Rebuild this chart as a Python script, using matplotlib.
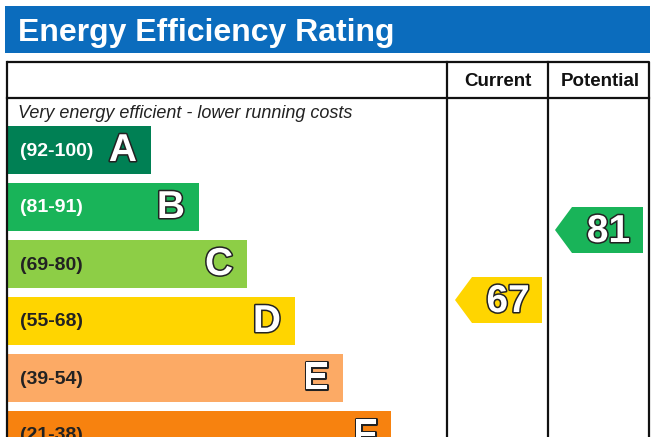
import matplotlib
matplotlib.use("Agg")
import matplotlib.pyplot as plt
from matplotlib.patches import Rectangle, Polygon
import matplotlib.patheffects as pe

plt.rcParams['font.family'] = ['Liberation Sans', 'DejaVu Sans']

# data
bands = ['A', 'B', 'C', 'D', 'E', 'F']
ranges = ['(92-100)', '(81-91)', '(69-80)', '(55-68)', '(39-54)', '(21-38)']
band_colors = ['#008054', '#19b459', '#8dce46', '#ffd500', '#fcaa65', '#f7820f']
label_colors = ['white', 'white', '#222222', '#222222', '#222222', '#222222']
current = 67
potential = 81
current_color = '#ffd500'
potential_color = '#19b459'

W, H = 656, 437
fig = plt.figure(figsize=(W / 100, H / 100), dpi=100)
ax = fig.add_axes([0, 0, 1, 1])
ax.set_xlim(0, W)
ax.set_ylim(H, 0)
ax.axis('off')

# title bar
ax.add_patch(Rectangle((5, 6), 645, 47, facecolor='#0b6cbd', edgecolor='none'))
ax.text(18, 41.5, 'Energy Efficiency Rating', color='white', fontsize=23,
        fontweight='bold', va='baseline', ha='left')

# table frame
lw = 1.6
ax.plot([7, 649, 649], [62, 62, H + 5], color='#111111', lw=lw, solid_capstyle='butt')
ax.plot([7, 7], [62, H + 5], color='#111111', lw=lw)
ax.plot([7, 649], [98, 98], color='#111111', lw=lw)
ax.plot([447, 447], [62, H + 5], color='#111111', lw=lw)
ax.plot([548, 548], [62, H + 5], color='#111111', lw=lw)

ax.text(498, 86.5, 'Current', fontsize=13.5, fontweight='bold', ha='center', va='baseline', color='#111111')
ax.text(600, 86.5, 'Potential', fontsize=13.5, fontweight='bold', ha='center', va='baseline', color='#111111')
ax.text(18, 118, 'Very energy efficient - lower running costs', fontsize=13,
        style='italic', ha='left', va='baseline', color='#222222')

outline = [pe.withStroke(linewidth=2.2, foreground='#222222')]

# bands
for i, (b, r, c, lc) in enumerate(zip(bands, ranges, band_colors, label_colors)):
    top = 126 + 57 * i
    right = 151 + 48 * i
    ax.add_patch(Rectangle((8, top), right - 8, 48, facecolor=c, edgecolor='none'))
    ax.text(20, top + 25, r, fontsize=14, fontweight='bold', color=lc, ha='left', va='center')
    ax.text(right - 14, top + 25, b, fontsize=28, fontweight='bold', color='white',
            ha='right', va='center', path_effects=outline)


def rating_y(v):
    return 635 - 5 * v


def arrow(v, x0, x1, color):
    yc = rating_y(v)
    h = 46
    pts = [(x0, yc), (x0 + 17, yc - h / 2), (x1, yc - h / 2), (x1, yc + h / 2), (x0 + 17, yc + h / 2)]
    ax.add_patch(Polygon(pts, closed=True, facecolor=color, edgecolor='none'))
    ax.text((x0 + 17 + x1) / 2 + 1, yc + 2, str(v), fontsize=28, fontweight='bold', color='white',
            ha='center', va='center', path_effects=outline)


arrow(current, 455, 542, current_color)
arrow(potential, 555, 643, potential_color)

fig.savefig('out.png', dpi=100)
